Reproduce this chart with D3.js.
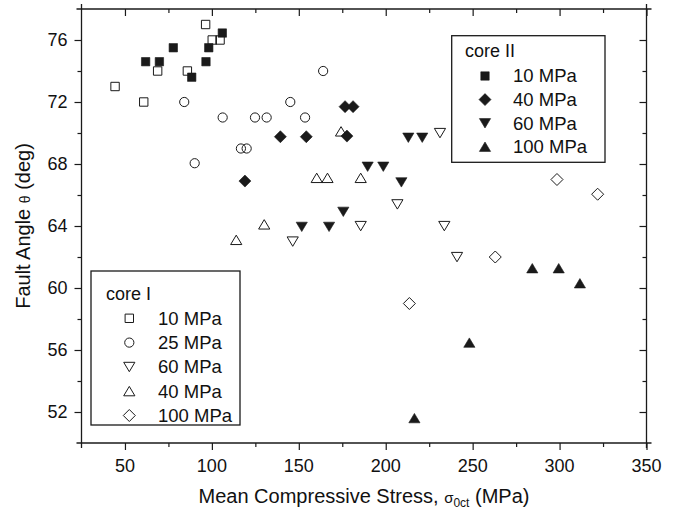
<!DOCTYPE html>
<html>
<head>
  <script src="https://d3js.org/d3.v7.min.js"></script>
  <style>
    body { margin: 0; background: #fff; overflow: hidden; }
    svg { display: block; }
    text { font-family: "Liberation Sans", Arial, sans-serif; fill: #111; }
  </style>
</head>
<body>
  <svg id="chart"></svg>
  <script>
    // tick labels
    var xTicks = [50, 100, 150, 200, 250, 300, 350];
    var xMinor = [75, 125, 175, 225, 275, 325];
    var yTicks = [52, 56, 60, 64, 68, 72, 76];
    var yMinor = [54, 58, 62, 66, 70, 74];

    // core I (open symbols)
    var coreI_10 = [[44.3, 73.0], [60.8, 72.0], [68.8, 74.0], [85.9, 74.0], [96.4, 77.0], [100.2, 76.0], [104.7, 76.0]];
    var coreI_25 = [[84.1, 72.0], [90.1, 68.05], [106.2, 71.0], [116.7, 69.0], [120, 69.0], [124.8, 71.0], [131.5, 71.0], [145.1, 72.0], [153.6, 71.0], [164, 74.0]];
    var coreI_60 = [[146.5, 63.0], [185.6, 64.0], [206.7, 65.4], [231.2, 70.0], [233.7, 64.0], [241, 62.0]];
    var coreI_40 = [[114, 63.1], [130.1, 64.1], [160.3, 67.1], [166.5, 67.1], [174.3, 70.1], [185.6, 67.1]];
    var coreI_100 = [[213.6, 59.0], [263, 62.0], [298.5, 67.0], [321.9, 66.05]];

    // core II (filled symbols)
    var coreII_10 = [[61.9, 74.6], [69.8, 74.6], [77.8, 75.5], [88.4, 73.6], [96.6, 74.6], [98.2, 75.5], [106, 76.45]];
    var coreII_40 = [[119, 66.9], [139.4, 69.76], [154.3, 69.76], [176.6, 71.7], [177.7, 69.8], [181.2, 71.7]];
    var coreII_60 = [[151.7, 63.95], [167.4, 63.95], [175.6, 64.92], [189.6, 67.83], [198.6, 67.83], [209, 66.82], [213, 69.7], [221, 69.7]];
    var coreII_100 = [[216.5, 51.6], [248.1, 56.47], [284.3, 61.27], [299.5, 61.27], [311.7, 60.3]];

    var legendI = ["10 MPa", "25 MPa", "60 MPa", "40 MPa", "100 MPa"];
    var legendII = ["10 MPa", "40 MPa", "60 MPa", "100 MPa"];

    var width = 680, height = 510;
    var margin = { top: 9, right: 33.5, bottom: 67, left: 81.5 };
    var innerWidth = width - margin.left - margin.right;
    var innerHeight = height - margin.top - margin.bottom;
    var ink = "#1a1a1a";

    var svg = d3.select("#chart")
      .attr("width", width)
      .attr("height", height);

    var chart = svg.append("g")
      .attr("transform", "translate(" + margin.left + "," + margin.top + ")");

    var x = d3.scaleLinear().domain([25, 350]).range([0, innerWidth]);
    var y = d3.scaleLinear().domain([50, 78]).range([innerHeight, 0]);

    // symbol paths centred on the bounding box
    function shape(kind) {
      if (kind == "square") {
        var s = 4.2;
        return "M" + (-s) + "," + (-s) + "H" + s + "V" + s + "H" + (-s) + "Z";
      }
      if (kind == "circle") {
        var r = 4.6;
        return "M" + r + ",0A" + r + "," + r + " 0 1,1 " + (-r) + ",0A" + r + "," + r + " 0 1,1 " + r + ",0Z";
      }
      if (kind == "down") {
        return "M-5.6,-4.6L5.6,-4.6L0,4.8Z";
      }
      if (kind == "up") {
        return "M-5.6,4.6L5.6,4.6L0,-4.8Z";
      }
      if (kind == "diamond") {
        return "M0,-6L6,0L0,6L-6,0Z";
      }
    }

    var seriesI = [
      { data: coreI_10, kind: "square" },
      { data: coreI_25, kind: "circle" },
      { data: coreI_60, kind: "down" },
      { data: coreI_40, kind: "up" },
      { data: coreI_100, kind: "diamond" }
    ];
    var seriesII = [
      { data: coreII_10, kind: "square" },
      { data: coreII_40, kind: "diamond" },
      { data: coreII_60, kind: "down" },
      { data: coreII_100, kind: "up" }
    ];

    // axis ticks only; labels are placed below from the same scales
    function styleAxis(g) {
      g.select(".domain").remove();
      g.selectAll("line").attr("stroke", ink).attr("stroke-width", 1.2);
      g.selectAll("text").remove();
    }

    var axes = [
      { axis: d3.axisBottom(x).tickValues(xTicks).tickSize(7), at: [0, innerHeight] },
      { axis: d3.axisBottom(x).tickValues(xMinor).tickSize(4), at: [0, innerHeight] },
      { axis: d3.axisLeft(y).tickValues(yTicks).tickSize(7), at: [0, 0] },
      { axis: d3.axisLeft(y).tickValues(yMinor).tickSize(4), at: [0, 0] },
      // top and right: inward ticks
      { axis: d3.axisBottom(x).tickValues(xTicks).tickSize(7), at: [0, 0] },
      { axis: d3.axisBottom(x).tickValues(xMinor).tickSize(4), at: [0, 0] },
      { axis: d3.axisLeft(y).tickValues(yTicks).tickSize(7), at: [innerWidth, 0] },
      { axis: d3.axisLeft(y).tickValues(yMinor).tickSize(4), at: [innerWidth, 0] }
    ];
    axes.forEach(function(a) {
      chart.append("g")
        .attr("transform", "translate(" + a.at[0] + "," + a.at[1] + ")")
        .call(a.axis)
        .call(styleAxis);
    });

    svg.selectAll(".xlab")
      .data(xTicks)
      .enter()
      .append("text")
      .attr("class", "xlab")
      .attr("x", d => margin.left + x(d))
      .attr("y", margin.top + innerHeight + 29)
      .attr("text-anchor", "middle")
      .style("font-size", "18px")
      .text(d => d);

    svg.selectAll(".ylab")
      .data(yTicks)
      .enter()
      .append("text")
      .attr("class", "ylab")
      .attr("x", margin.left - 14)
      .attr("y", d => margin.top + y(d))
      .attr("dy", "0.35em")
      .attr("text-anchor", "end")
      .style("font-size", "18px")
      .text(d => d);

    // frame lines, running a little past the corners
    var ext = 5;
    var frame = [
      [-ext, 0, innerWidth + ext, 0],
      [-ext, innerHeight, innerWidth + ext, innerHeight],
      [0, -ext, 0, innerHeight + ext],
      [innerWidth, -ext, innerWidth, innerHeight + ext]
    ];
    chart.selectAll(".frame")
      .data(frame)
      .enter()
      .append("line")
      .attr("class", "frame")
      .attr("x1", d => d[0]).attr("y1", d => d[1])
      .attr("x2", d => d[2]).attr("y2", d => d[3])
      .attr("stroke", ink)
      .attr("stroke-width", 1.3);

    // points
    function drawSeries(list, filled) {
      list.forEach(function(s) {
        chart.append("g")
          .selectAll("path")
          .data(s.data)
          .enter()
          .append("path")
          .attr("transform", d => "translate(" + x(d[0]) + "," + y(d[1]) + ")")
          .attr("d", shape(s.kind))
          .attr("fill", filled ? ink : "none")
          .attr("stroke", ink)
          .attr("stroke-width", filled ? 0.6 : 1);
      });
    }
    drawSeries(seriesI, false);
    drawSeries(seriesII, true);

    // legends
    function drawLegend(title, labels, list, filled, box, titleX, titleY, symX, textX, rowY, rowStep) {
      var g = svg.append("g");
      g.append("rect")
        .attr("x", box[0]).attr("y", box[1])
        .attr("width", box[2]).attr("height", box[3])
        .attr("fill", "#fff")
        .attr("stroke", ink)
        .attr("stroke-width", 1.3);
      g.append("text")
        .attr("x", titleX)
        .attr("y", titleY)
        .attr("dy", "0.35em")
        .style("font-size", "18px")
        .text(title);
      labels.forEach(function(lab, i) {
        var cy = rowY + i * rowStep;
        g.append("path")
          .attr("transform", "translate(" + symX + "," + cy + ")")
          .attr("d", shape(list[i].kind))
          .attr("fill", filled ? ink : "none")
          .attr("stroke", ink)
          .attr("stroke-width", filled ? 0.6 : 1);
        g.append("text")
          .attr("x", textX)
          .attr("y", cy)
          .attr("dy", "0.35em")
          .style("font-size", "18.5px")
          .text(lab);
      });
    }
    drawLegend("core II", legendII, seriesII, true, [451.7, 35.7, 153.3, 126.6], 465, 51, 485, 513, 76, 23.6);
    drawLegend("core I", legendI, seriesI, false, [91, 271, 149, 154], 106, 294, 129.3, 158, 318.3, 24.3);

    // axis titles
    var xt = svg.append("text")
      .attr("x", margin.left + innerWidth / 2)
      .attr("y", 503)
      .attr("text-anchor", "middle")
      .style("font-size", "20px");
    xt.append("tspan").text("Mean Compressive Stress, ");
    xt.append("tspan").style("font-size", "15px").text("σ");
    xt.append("tspan").style("font-size", "12px").attr("dy", 4).text("0ct");
    xt.append("tspan").attr("dy", -4).text(" (MPa)");

    var yMid = margin.top + innerHeight / 2;
    var yt = svg.append("text")
      .attr("x", 30)
      .attr("y", yMid)
      .attr("transform", "rotate(-90,30," + yMid + ")")
      .attr("text-anchor", "middle")
      .style("font-size", "20px");
    yt.append("tspan").text("Fault Angle ");
    yt.append("tspan").style("font-size", "14px").text("θ");
    yt.append("tspan").text(" (deg)");
  </script>
</body>
</html>
